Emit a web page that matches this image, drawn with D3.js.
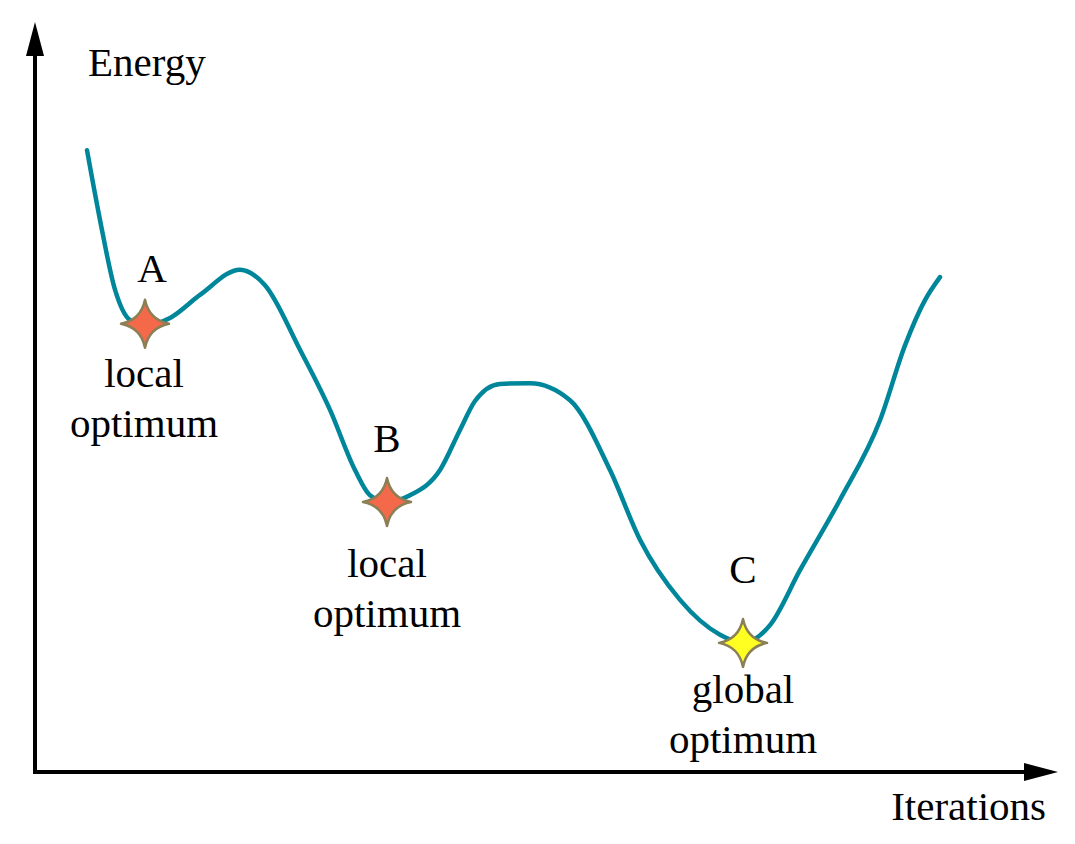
<!DOCTYPE html>
<html><head><meta charset="utf-8">
<script src="https://cdn.jsdelivr.net/npm/d3@7"></script>
<style>body{margin:0;background:#fff} text{font-family:"Liberation Serif","DejaVu Serif",serif}</style></head>
<body><svg id="chart" width="1075" height="844"></svg>
<script>
// curve samples: iteration vs energy
const iterations = [52,65,80,95,110,135,165,205,230,265,295,320,335,352,375,405,425,440,465,495,535,575,605,645,685,708,735,765,805,845,870,890,905];
const energy = [83.8,74.4,65.0,60.9,60.2,61.2,64.3,67.7,65.6,56.9,48.8,40.7,37.3,36.4,37.3,40.7,46.1,50.0,52.3,52.4,50.1,40.7,31.3,23.2,18.5,17.4,19.8,27.2,36.7,47.4,57.5,63.6,66.7];
const markers = [
  {x:110, y:60.4, label:"A", text:["local","optimum"], color:"#f4694a", lx:117, ly:[-42,63,113]},
  {x:352, y:36.4, label:"B", text:["local","optimum"], color:"#f4694a", lx:352, ly:[-50,75,125]},
  {x:708, y:17.4, label:"C", text:["global","optimum"], color:"#ffff22", lx:708, ly:[-60,60,110]}
];

const svg = d3.select("#chart");
const x = d3.scaleLinear().domain([0,1000]).range([35,1035]);
const y = d3.scaleLinear().domain([0,100]).range([772,30]);

// axes with arrows
svg.append("line").attr("x1",35).attr("y1",773).attr("x2",35).attr("y2",50).attr("stroke","#000").attr("stroke-width",4);
svg.append("line").attr("x1",33).attr("y1",772).attr("x2",1030).attr("y2",772).attr("stroke","#000").attr("stroke-width",4);
svg.append("path").attr("d","M35,22 L26,56 L44,56 Z").attr("fill","#000");
svg.append("path").attr("d","M1058,772 L1024,763 L1024,781 Z").attr("fill","#000");

const fs = 41;
svg.append("text").attr("x",88).attr("y",76).attr("font-size",fs).text("Energy");
svg.append("text").attr("x",1046).attr("y",820).attr("text-anchor","end").attr("font-size",fs).text("Iterations");

const line = d3.line().x((d,i)=>x(iterations[i])).y(d=>y(d)).curve(d3.curveMonotoneX);
svg.append("path").datum(energy).attr("d",line).attr("fill","none").attr("stroke","#00869a").attr("stroke-width",4.5).attr("stroke-linecap","round");

function star(r, w){
  return `M0,${-r} Q${w},${-w} ${r},0 Q${w},${w} 0,${r} Q${-w},${w} ${-r},0 Q${-w},${-w} 0,${-r} Z`;
}
markers.forEach(m=>{
  const cx = x(m.x), cy = y(m.y);
  svg.append("path").attr("d",star(24,4)).attr("transform",`translate(${cx},${cy})`)
    .attr("fill",m.color).attr("stroke","#8a7f55").attr("stroke-width",2.5).attr("stroke-linejoin","round");
  const lx = x(m.lx);
  svg.append("text").attr("x",lx).attr("y",cy+m.ly[0]).attr("text-anchor","middle").attr("font-size",fs).text(m.label);
  m.text.forEach((t,i)=>svg.append("text").attr("x",m.label==="A"?x(109):lx).attr("y",cy+m.ly[i+1]).attr("text-anchor","middle").attr("font-size",fs).text(t));
});
</script></body></html>
